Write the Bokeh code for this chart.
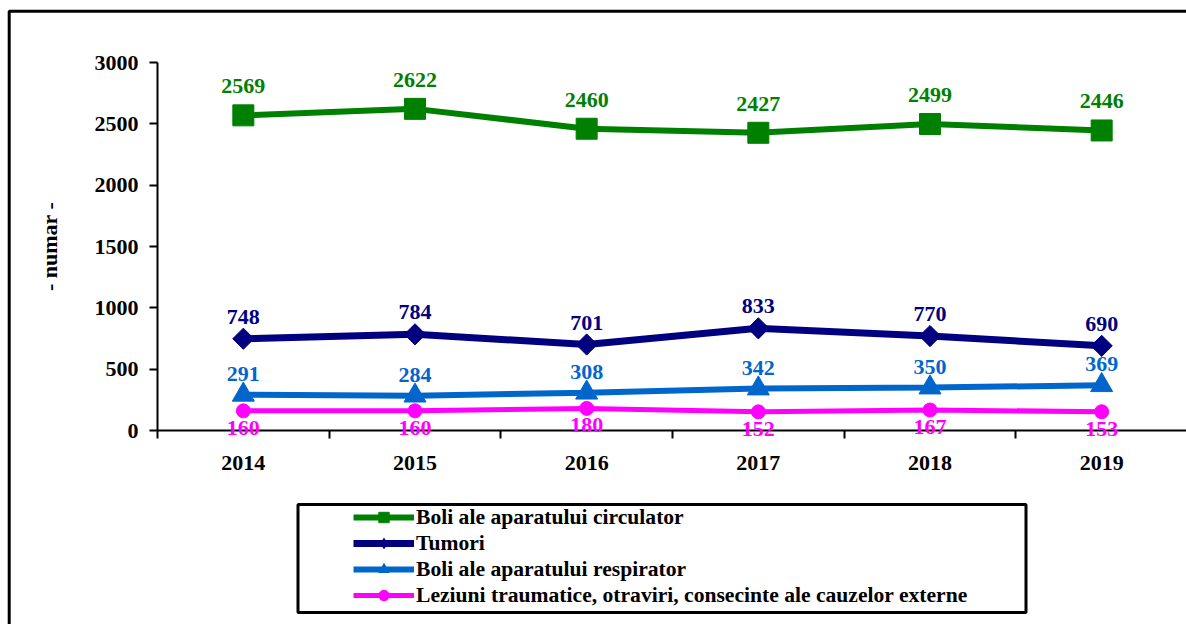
import numpy as np
from bokeh.plotting import figure
from bokeh.models import (Range1d, LinearAxis, FixedTicker, Legend, LegendItem,
                          BoxAnnotation, ColumnDataSource, LabelSet)
from bokeh.core.properties import value
from bokeh.embed import file_html
from bokeh.resources import INLINE

# ---------------- data ----------------
years = ["2014", "2015", "2016", "2017", "2018", "2019"]
circulator = [2569, 2622, 2460, 2427, 2499, 2446]
tumori = [748, 784, 701, 833, 770, 690]
respirator = [291, 284, 308, 342, 350, 369]
leziuni = [160, 160, 180, 152, 167, 153]
series_names = [
    "Boli ale aparatului circulator",
    "Tumori",
    "Boli ale aparatului respirator",
    "Leziuni traumatice, otraviri, consecinte ale cauzelor externe",
]
y_ticks = [0, 500, 1000, 1500, 2000, 2500, 3000]
y_label = "- numar -"

# ---------------- layout (pixels) ----------------
FONT = "Liberation Serif"
FS = "22px"
W, H = 1186, 624
AX_L, AX_R = 157, 1187      # plot area left/right edges (px)
AX_T, AX_B = 62, 430        # y = top tick / y = 0 (px)

n = len(years)
xc = np.arange(n) + 0.5                 # category centres
xb = np.arange(n + 1).astype(float)     # category boundaries

ppx = (AX_R - AX_L) / n                 # px per category
ppy = (AX_B - AX_T) / (y_ticks[-1] - y_ticks[0])
x_start = 0 - AX_L / ppx
x_end = n + (W - AX_R) / ppx
y_start = y_ticks[0] - (H - AX_B) / ppy
y_end = y_ticks[-1] + AX_T / ppy

p = figure(width=W, height=H, output_backend="svg", toolbar_location=None,
           x_range=Range1d(x_start, x_end), y_range=Range1d(y_start, y_end),
           x_axis_location=None, y_axis_location=None,
           min_border_left=0, min_border_right=0,
           min_border_top=0, min_border_bottom=0)
p.outline_line_color = None
p.grid.grid_line_color = None
p.background_fill_color = "white"
p.border_fill_color = "white"

# y axis
yax = LinearAxis(ticker=FixedTicker(ticks=y_ticks, minor_ticks=[]),
                 fixed_location=0, bounds=(y_ticks[0], y_ticks[-1]))
yax.axis_line_width = 2
yax.major_tick_line_width = 2
yax.major_tick_out = 8
yax.major_tick_in = 0
yax.minor_tick_line_color = None
yax.major_label_text_font = FONT
yax.major_label_text_font_style = "bold"
yax.major_label_text_font_size = FS
yax.major_label_text_color = "black"
yax.major_label_standoff = 11
yax.axis_label = y_label
yax.axis_label_text_font = FONT
yax.axis_label_text_font_style = "bold"
yax.axis_label_text_font_size = FS
yax.axis_label_text_color = "black"
yax.axis_label_standoff = 30
p.add_layout(yax, "left")

# x axis
xax = LinearAxis(ticker=FixedTicker(ticks=list(xc), minor_ticks=list(xb)),
                 fixed_location=0, bounds=(0, n))
xax.major_label_overrides = {float(c): y for c, y in zip(xc, years)}
xax.axis_line_width = 2
xax.major_tick_line_color = None
xax.major_tick_out = 0
xax.major_tick_in = 0
xax.minor_tick_line_color = "black"
xax.minor_tick_line_width = 2
xax.minor_tick_out = 8
xax.minor_tick_in = 0
xax.major_label_text_font = FONT
xax.major_label_text_font_style = "bold"
xax.major_label_text_font_size = FS
xax.major_label_text_color = "black"
xax.major_label_standoff = 17
p.add_layout(xax, "below")

# (values, colour, line width, marker, size, angle, label offset, legend marker)
specs = [
    (circulator, "#008000", 6, "square", 21, 0.0, 29, None),
    (tumori, "#000080", 7, "square", 15, np.pi / 4, 22, "diamond"),
    (respirator, "#0066CC", 6, "triangle", 22, 0.0, 21, None),
    (leziuni, "#FF00FF", 5, "circle", 14, 0.0, -17, None),
]

items = []
for (vals, col, lw, mk, sz, ang, off, lmk), name in zip(specs, series_names):
    src = ColumnDataSource(dict(x=xc, y=vals, t=[str(v) for v in vals]))
    ln = p.line("x", "y", source=src, line_color=col, line_width=lw)
    rends = [ln]
    if lmk is not None:
        # small marker hidden under the main one; used for the legend glyph
        rends.append(p.scatter("x", "y", source=src, marker=lmk, size=12,
                               fill_color=col, line_color=col))
    sc = p.scatter("x", "y", source=src, marker=mk, size=sz, angle=ang,
                   fill_color=col, line_color=col)
    if lmk is None:
        rends.append(sc)
    lab = LabelSet(x="x", y="y", text="t", source=src, y_offset=off,
                   text_align="center", text_baseline="middle",
                   text_color=col, text_font=value(FONT),
                   text_font_style="bold", text_font_size=FS)
    p.add_layout(lab)
    items.append(LegendItem(label=name, renderers=rends))

legend = Legend(items=items, location=(353, 16))
legend.padding = 2
legend.spacing = 0
legend.glyph_width = 61
legend.glyph_height = 26
legend.label_height = 26
legend.label_standoff = 2
legend.label_text_font = FONT
legend.label_text_font_style = "bold"
legend.label_text_font_size = "21.6px"
legend.label_text_color = "black"
legend.border_line_color = None
legend.background_fill_alpha = 0
legend.margin = 0
p.add_layout(legend, "center")

# legend frame
p.add_layout(BoxAnnotation(left=297.5, right=1025.5, top=504, bottom=612,
                           left_units="canvas", right_units="canvas",
                           top_units="canvas", bottom_units="canvas",
                           fill_alpha=0, line_color="black", line_alpha=1,
                           line_width=3, level="overlay"))
# outer frame (right and bottom sides lie outside the picture)
p.add_layout(BoxAnnotation(left=8.7, right=W + 60, top=10.7, bottom=H + 60,
                           left_units="canvas", right_units="canvas",
                           top_units="canvas", bottom_units="canvas",
                           fill_alpha=0, line_color="black", line_alpha=1,
                           line_width=3, level="overlay"))

open("out.html", "w").write(file_html(p, INLINE))
